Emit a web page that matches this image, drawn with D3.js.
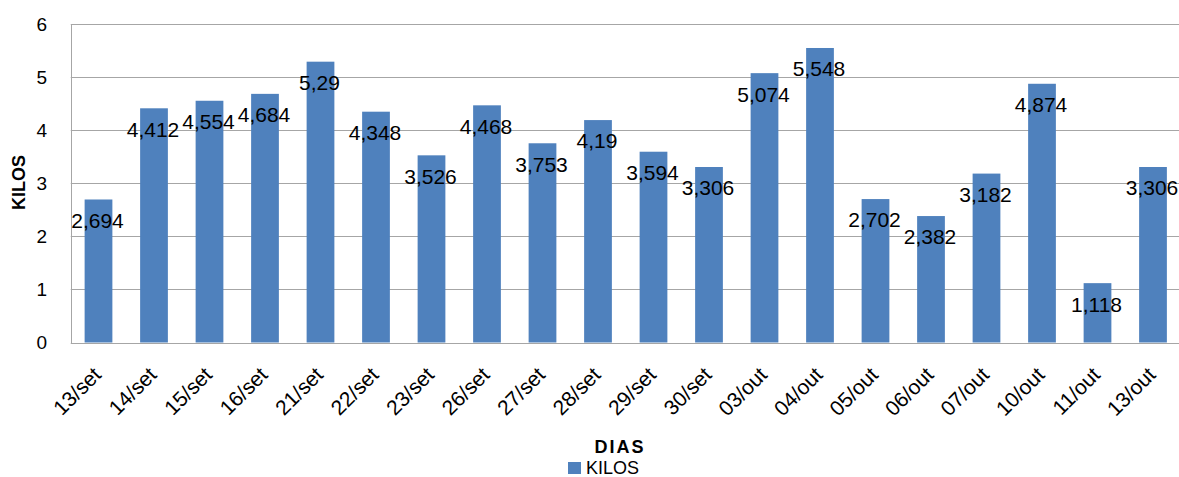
<!DOCTYPE html>
<html>
<head>
<meta charset="utf-8">
<script src="https://cdn.jsdelivr.net/npm/d3@7"></script>
<style>
  html, body { margin: 0; padding: 0; background: #fff; }
  svg { display: block; font-family: "Liberation Sans", Arial, sans-serif; }
</style>
</head>
<body>
<svg id="chart" width="1179" height="477"></svg>
<script>
const categories = ["13/set","14/set","15/set","16/set","21/set","22/set","23/set","26/set","27/set","28/set","29/set","30/set","03/out","04/out","05/out","06/out","07/out","10/out","11/out","13/out"];
const kilos = [2.694,4.412,4.554,4.684,5.29,4.348,3.526,4.468,3.753,4.19,3.594,3.306,5.074,5.548,2.702,2.382,3.182,4.874,1.118,3.306];
const yTicks = [0,1,2,3,4,5,6];
const seriesName = "KILOS";
const xTitle = "DIAS";
const yTitle = "KILOS";

const svg = d3.select("#chart");
const plotLeft = 70.75, plotRight = 1180.75, plotTop = 24, plotBottom = 342.5;

const x = d3.scaleBand().domain(categories).range([plotLeft, plotRight]).paddingInner(0.5).paddingOuter(0.25);
const y = d3.scaleLinear().domain([0, 6]).range([plotBottom, plotTop]);

// gridlines
svg.append("g").selectAll("line").data(yTicks).join("line")
  .attr("x1", plotLeft).attr("x2", 1179)
  .attr("y1", d => Math.round(y(d)) + 0.5).attr("y2", d => Math.round(y(d)) + 0.5)
  .attr("stroke", "#A6A6A6").attr("stroke-width", 1);

// left axis line
svg.append("line").attr("x1", Math.round(plotLeft) + 0.5).attr("x2", Math.round(plotLeft) + 0.5)
  .attr("y1", y(6)).attr("y2", Math.round(y(0)) + 0.5)
  .attr("stroke", "#A6A6A6");

// y tick labels
svg.append("g").selectAll("text").data(yTicks).join("text")
  .attr("x", 47).attr("y", d => y(d)).attr("dy", "0.35em")
  .attr("text-anchor", "end").attr("font-size", 19).attr("fill", "#000")
  .text(d => d);

// bars
svg.append("g").selectAll("rect").data(kilos).join("rect")
  .attr("x", (d, i) => x(categories[i]))
  .attr("width", x.bandwidth())
  .attr("y", d => y(d))
  .attr("height", d => y(0) - y(d))
  .attr("fill", "#4F81BD");

// data labels
svg.append("g").selectAll("text").data(kilos).join("text")
  .attr("x", (d, i) => x(categories[i]) + x.bandwidth() / 2 - 1)
  .attr("y", d => y(d) + 21).attr("dy", "0.35em")
  .attr("text-anchor", "middle").attr("font-size", 21).attr("fill", "#000")
  .text(d => String(d).replace(".", ","));

// x tick labels
svg.append("g").selectAll("text").data(categories).join("text")
  .attr("transform", d => `translate(${x(d) + x.bandwidth() / 2 + 4},376) rotate(-45)`)
  .attr("text-anchor", "end").attr("font-size", 21).attr("fill", "#000")
  .text(d => d);

// axis titles
svg.append("text").attr("x", 620).attr("y", 453).attr("text-anchor", "middle")
  .attr("font-size", 18).attr("font-weight", "bold").attr("letter-spacing", 2)
  .text(xTitle);
svg.append("text").attr("transform", "translate(25,182.5) rotate(-90)")
  .attr("text-anchor", "middle").attr("font-size", 18).attr("font-weight", "bold")
  .text(yTitle);

// legend
svg.append("rect").attr("x", 568).attr("y", 462).attr("width", 13).attr("height", 12).attr("fill", "#4F81BD");
svg.append("text").attr("x", 586).attr("y", 474).attr("font-size", 18).text(seriesName);
</script>
</body>
</html>
